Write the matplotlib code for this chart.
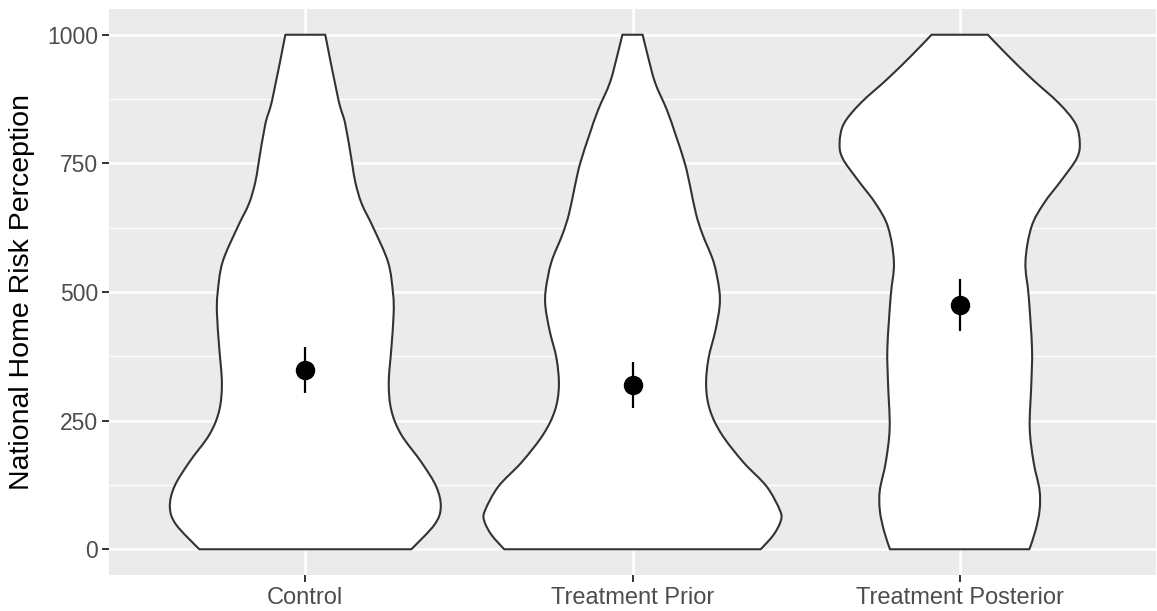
import matplotlib
matplotlib.use("Agg")
import matplotlib.pyplot as plt
from matplotlib.path import Path
from matplotlib.patches import PathPatch
import numpy as np

# Groups on the x axis
groups = ["Control", "Treatment Prior", "Treatment Posterior"]

# Violin outlines: perception level and half-width (in category units)
control_levels = [0, 48, 82, 122, 169, 223, 270, 323, 391, 458, 498, 558, 626, 672, 713, 750, 827, 874, 1000]
control_halfwidth = [0.324, 0.395, 0.414, 0.400, 0.355, 0.293, 0.263, 0.255, 0.263, 0.270, 0.268,
                     0.253, 0.207, 0.172, 0.153, 0.143, 0.122, 0.101, 0.061]

prior_levels = [0, 28, 55, 75, 122, 169, 223, 270, 317, 370, 424, 471, 505, 558, 612, 652, 706,
                750, 807, 854, 907, 961, 1000]
prior_halfwidth = [0.392, 0.431, 0.453, 0.451, 0.410, 0.339, 0.273, 0.237, 0.225, 0.232, 0.253,
                   0.266, 0.265, 0.248, 0.214, 0.194, 0.176, 0.160, 0.131, 0.105, 0.069, 0.046, 0.031]

posterior_levels = [0, 35, 75, 115, 169, 236, 323, 391, 491, 558, 626, 672, 719, 760, 790, 827,
                    867, 914, 961, 1000]
posterior_halfwidth = [0.213, 0.231, 0.244, 0.244, 0.226, 0.214, 0.219, 0.221, 0.211, 0.201, 0.219,
                       0.257, 0.313, 0.358, 0.367, 0.354, 0.303, 0.221, 0.145, 0.086]

# Mean and interval per group
means = [349, 319, 475]
lower = [303, 274, 425]
upper = [394, 363, 525]

y_ticks = [0, 250, 500, 750, 1000]
y_minor = [125, 375, 625, 875]

outlines = [
    (control_levels, control_halfwidth),
    (prior_levels, prior_halfwidth),
    (posterior_levels, posterior_halfwidth),
]


def smooth_segments(pts):
    """Cubic Bezier control points (Catmull-Rom) through a sequence of points."""
    pts = np.asarray(pts, dtype=float)
    ext = np.vstack([pts[0], pts, pts[-1]])
    verts, codes = [], []
    for k in range(len(pts) - 1):
        p0, p1, p2, p3 = ext[k], ext[k + 1], ext[k + 2], ext[k + 3]
        c1 = p1 + (p2 - p0) / 6.0
        c2 = p2 - (p3 - p1) / 6.0
        verts += [c1, c2, p2]
        codes += [Path.CURVE4] * 3
    return verts, codes


def violin_path(center, levels, halfwidth):
    lv = np.asarray(levels, dtype=float)
    hw = np.asarray(halfwidth, dtype=float)
    left = np.column_stack([center - hw, lv])
    right = np.column_stack([center + hw, lv])[::-1]
    verts = [left[0]]
    codes = [Path.MOVETO]
    v, c = smooth_segments(left)
    verts += v
    codes += c
    verts.append(right[0])
    codes.append(Path.LINETO)
    v, c = smooth_segments(right)
    verts += v
    codes += c
    verts.append(left[0])
    codes.append(Path.CLOSEPOLY)
    return Path(np.array(verts), codes)


plt.rcParams["font.family"] = ["Liberation Sans", "DejaVu Sans"]

fig = plt.figure(figsize=(11.57, 6.11), dpi=100)
ax = fig.add_axes([109 / 1157, 36 / 611, 1047 / 1157, 566 / 611])
ax.set_facecolor("#EBEBEB")

for i, (lv, hw) in enumerate(outlines):
    patch = PathPatch(violin_path(i, lv, hw), facecolor="white", edgecolor="#333333",
                      linewidth=1.5, joinstyle="round", zorder=3)
    ax.add_patch(patch)

x = np.arange(len(groups))
ax.vlines(x, lower, upper, color="black", linewidth=1.6, zorder=4)
ax.plot(x, means, "o", color="black", markersize=13, zorder=5)

ax.set_xlim(-0.6, 2.6)
ax.set_ylim(-50, 1050)
ax.set_xticks(x)
ax.set_xticklabels(groups)
ax.set_yticks(y_ticks)
ax.set_yticks(y_minor, minor=True)

ax.grid(which="major", color="white", linewidth=1.8, zorder=0)
ax.grid(which="minor", axis="y", color="white", linewidth=0.9, zorder=0)
ax.set_axisbelow(True)
for s in ax.spines.values():
    s.set_visible(False)

ax.tick_params(axis="both", which="major", length=5, width=1.4, color="#333333",
               labelcolor="#4D4D4D", pad=3)
ax.tick_params(axis="x", which="major", labelsize=17, pad=4)
ax.tick_params(axis="y", which="major", labelsize=16.5)
ax.tick_params(axis="both", which="minor", length=0)

fig.text(22 / 1157, 1 - 292 / 611, "National Home Risk Perception", rotation=90,
         ha="center", va="center", fontsize=20.5, color="black")

fig.savefig("out.png", dpi=100)
